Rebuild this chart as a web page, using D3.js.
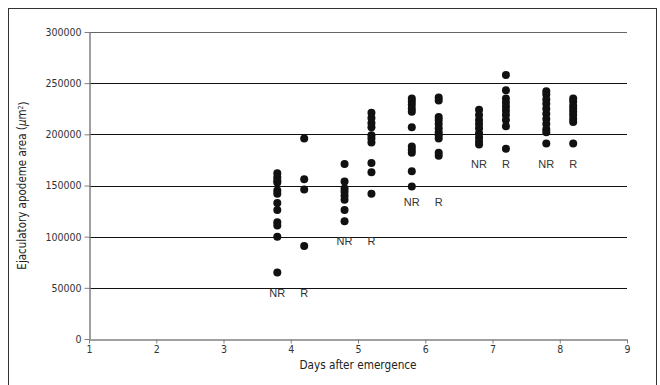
<!DOCTYPE html>
<html>
<head>
<meta charset="utf-8">
<script src="https://cdn.jsdelivr.net/npm/d3@7"></script>
<style>
	body { margin: 0; background: #fff; }
	svg { display: block; }
	.axis path, .axis line { stroke: #808080; }
	.axis text { fill: #333; font-family: "DejaVu Sans Condensed", sans-serif; font-size: 10.5px; }
</style>
</head>
<body>
<svg width="660" height="385"></svg>
<script>
// x values of each group (day +/- 0.2)
const nrDays = [3.8, 4.8, 5.8, 6.8, 7.8];
const rDays = [4.2, 5.2, 6.2, 7.2, 8.2];

// non-reproductive (NR) measurements per day
const nrValues = [
	[162000, 158000, 155000, 153000, 145000, 142000, 133000, 126000, 114000, 111000, 100000, 65000],
	[171000, 154000, 147000, 144000, 140000, 136000, 126000, 115000],
	[235000, 232000, 229000, 225000, 222000, 207000, 188000, 185000, 182000, 164000, 149000],
	[224000, 219000, 214000, 210000, 206000, 201000, 197000, 193000, 190000],
	[242000, 239000, 234000, 230000, 225000, 220000, 215000, 210000, 205000, 202000, 191000]
];

// reproductive (R) measurements per day
const rValues = [
	[196000, 156000, 146000, 91000],
	[221000, 216000, 211000, 207000, 199000, 196000, 192000, 172000, 163000, 142000],
	[236000, 233000, 217000, 214000, 210000, 206000, 202000, 199000, 196000, 182000, 179000],
	[258000, 243000, 235000, 231000, 227000, 223000, 219000, 214000, 208000, 186000],
	[235000, 232000, 228000, 225000, 222000, 219000, 215000, 212000, 191000]
];

// level (in y units) at which the NR / R labels sit
const labelLevels = [45000, 96000, 134000, 171000, 171000];

const xTicks = [1, 2, 3, 4, 5, 6, 7, 8, 9];
const yTicks = [0, 50000, 100000, 150000, 200000, 250000, 300000];

const svg = d3.select("svg");

// outer frame
svg.append("rect")
	.attr("x", 8.5)
	.attr("y", 8.5)
	.attr("width", 648)
	.attr("height", 390)
	.attr("fill", "none")
	.attr("stroke", "#333");

const x = d3.scaleLinear().domain([1, 9]).range([89, 627]);
const y = d3.scaleLinear().domain([0, 300000]).range([339, 32]);

// gridlines
svg.append("g")
	.selectAll("line")
	.data(yTicks.slice(1))
	.enter().append("line")
	.attr("x1", x(1))
	.attr("x2", x(9))
	.attr("y1", (d) => Math.round(y(d)) + 0.5)
	.attr("y2", (d) => Math.round(y(d)) + 0.5)
	.attr("stroke", (d) => d === 300000 ? "#666" : "#111")
	.attr("stroke-width", 1);

// axes
svg.append("g")
	.attr("class", "axis")
	.attr("transform", "translate(0," + (Math.round(y(0)) + 0.5) + ")")
	.call(d3.axisBottom(x).tickValues(xTicks).tickFormat(d3.format("d")).tickSize(4).tickSizeOuter(0).tickPadding(2));

svg.append("g")
	.attr("class", "axis")
	.attr("transform", "translate(" + (Math.round(x(1)) + 0.5) + ",0)")
	.call(d3.axisLeft(y).tickValues(yTicks).tickFormat(d3.format("d")).tickSize(5).tickSizeOuter(0).tickPadding(3));

svg.selectAll(".axis .domain").attr("stroke", "#808080").attr("stroke-width", 1.5);

// points
const drawGroup = (days, values, cls) => {
	const pts = [];
	days.forEach((d, i) => values[i].forEach((v) => pts.push({ day: d, value: v })));
	svg.append("g")
		.attr("class", cls)
		.selectAll("circle")
		.data(pts)
		.enter().append("circle")
		.attr("cx", (d) => x(d.day))
		.attr("cy", (d) => y(d.value))
		.attr("r", 4)
		.attr("fill", "#111");
};
drawGroup(nrDays, nrValues, "nr");
drawGroup(rDays, rValues, "r");

// group labels
const labelFont = "'Liberation Sans', Arial, sans-serif";
const addLabels = (days, text) => {
	svg.append("g")
		.selectAll("text")
		.data(days)
		.enter().append("text")
		.attr("x", (d) => x(d))
		.attr("y", (d, i) => y(labelLevels[i]))
		.attr("dy", "0.35em")
		.attr("text-anchor", "middle")
		.attr("font-family", labelFont)
		.attr("font-size", 11)
		.attr("fill", "#333")
		.text(text);
};
addLabels(nrDays, "NR");
addLabels(rDays, "R");

// axis titles
const titleFont = "'DejaVu Sans Condensed', sans-serif";
svg.append("text")
	.attr("x", (x(1) + x(9)) / 2)
	.attr("y", 369)
	.attr("text-anchor", "middle")
	.attr("font-family", titleFont)
	.attr("font-size", 11.7)
	.attr("fill", "#222")
	.text("Days after emergence");

const yTitle = svg.append("text")
	.attr("transform", "translate(26," + ((y(0) + y(300000)) / 2) + ") rotate(-90)")
	.attr("text-anchor", "middle")
	.attr("font-family", titleFont)
	.attr("font-size", 11.5)
	.attr("fill", "#222");
yTitle.append("tspan").text("Ejaculatory apodeme area (");
yTitle.append("tspan").attr("font-style", "italic").text("\u03bc");
yTitle.append("tspan").text("m");
yTitle.append("tspan").attr("dy", "-0.45em").attr("font-size", 7).text("2");
yTitle.append("tspan").attr("dy", "0.45em").text(")");
</script>
</body>
</html>
